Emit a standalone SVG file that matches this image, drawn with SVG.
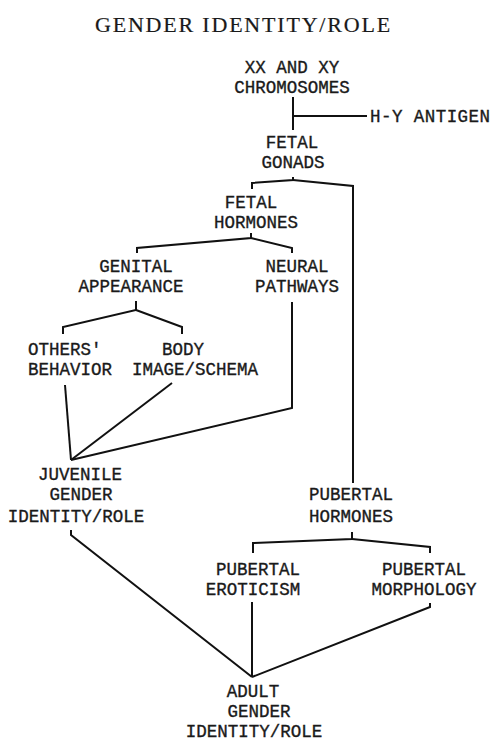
<svg xmlns="http://www.w3.org/2000/svg" width="494" height="742" viewBox="0 0 494 742">
<style>
.t{font-family:"Liberation Mono","Courier New",monospace;font-size:17.5px;fill:#1a1a1a;stroke:#1a1a1a;stroke-width:0.35}
.m{text-anchor:middle}
.title{font-family:"Liberation Serif","Times New Roman",serif;font-size:22px;letter-spacing:1.8px;fill:#1a1a1a;stroke:#1a1a1a;stroke-width:0.2}
.c{fill:none;stroke:#111;stroke-width:2;stroke-linejoin:miter}
</style>
<rect width="494" height="742" fill="#fff"/>
<text class="title" x="95" y="32">GENDER IDENTITY/ROLE</text>
<g id="connectors">
<path class="c" d="M293 97V130"/>
<path class="c" d="M293 116H367"/>
<path class="c" d="M293 177V180L252 183V189"/>
<path class="c" d="M293 180L353 186V483"/>
<path class="c" d="M251 233V238L137 248V253"/>
<path class="c" d="M251 238L292 248V253"/>
<path class="c" d="M136 301V310L63 327V334"/>
<path class="c" d="M136 310L182 327V334"/>
<path class="c" d="M65 385L71 460"/>
<path class="c" d="M172 383L71 460"/>
<path class="c" d="M292 302V408L71 460"/>
<path class="c" d="M71 530V535L252 677"/>
<path class="c" d="M352 532V539L253 543V553"/>
<path class="c" d="M352 539L430 547V553"/>
<path class="c" d="M252 602V677"/>
<path class="c" d="M430 603V607L252 677"/>
</g>
<g id="chromosomes"><text class="t m" x="292" y="73">XX AND XY</text><text class="t m" x="292" y="93">CHROMOSOMES</text></g>
<g id="hy-antigen"><text class="t" x="370" y="122" textLength="120">H-Y ANTIGEN</text></g>
<g id="fetal-gonads"><text class="t m" x="292" y="148">FETAL</text><text class="t m" x="293" y="168">GONADS</text></g>
<g id="fetal-hormones"><text class="t m" x="251" y="208">FETAL</text><text class="t m" x="256" y="228">HORMONES</text></g>
<g id="genital-appearance"><text class="t m" x="136" y="272">GENITAL</text><text class="t m" x="131" y="292">APPEARANCE</text></g>
<g id="neural-pathways"><text class="t m" x="297" y="272">NEURAL</text><text class="t m" x="297" y="292">PATHWAYS</text></g>
<g id="others-behavior"><text class="t" x="28" y="355">OTHERS'</text><text class="t" x="28" y="375">BEHAVIOR</text></g>
<g id="body-image"><text class="t m" x="183" y="355">BODY</text><text class="t m" x="195" y="375">IMAGE/SCHEMA</text></g>
<g id="juvenile"><text class="t m" x="80" y="480">JUVENILE</text><text class="t m" x="81" y="500">GENDER</text><text class="t m" x="76" y="522">IDENTITY/ROLE</text></g>
<g id="pubertal-hormones"><text class="t m" x="351" y="500">PUBERTAL</text><text class="t m" x="351" y="522">HORMONES</text></g>
<g id="pubertal-eroticism"><text class="t m" x="258" y="575">PUBERTAL</text><text class="t m" x="253" y="595">EROTICISM</text></g>
<g id="pubertal-morphology"><text class="t m" x="424" y="575">PUBERTAL</text><text class="t m" x="424" y="595">MORPHOLOGY</text></g>
<g id="adult"><text class="t m" x="253" y="697">ADULT</text><text class="t m" x="259" y="717">GENDER</text><text class="t m" x="254" y="737">IDENTITY/ROLE</text></g>
</svg>
